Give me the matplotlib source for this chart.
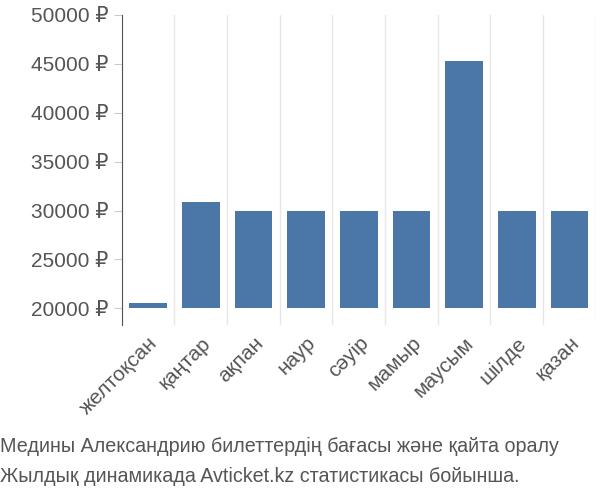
import matplotlib
matplotlib.use("Agg")
import matplotlib.pyplot as plt
from matplotlib.ticker import FuncFormatter

plt.rcParams['font.family'] = ['Liberation Sans', 'DejaVu Sans']

months = ['желтоқсан', 'қаңтар', 'ақпан', 'наур', 'сәуір', 'мамыр', 'маусым', 'шілде', 'қазан']
prices = [20600, 30900, 30000, 30000, 30000, 30000, 45300, 30000, 30000]
base = 20000

fig = plt.figure(figsize=(6, 5), dpi=100)
ax = fig.add_axes([0.203, 0.35, 0.79, 0.62])

x = range(len(months))
ax.bar(x, [p - base for p in prices], bottom=base, width=0.72, color='#4a76a8', zorder=2)

# light separators between categories
for b in [i + 0.5 for i in range(-1, len(months))]:
    ax.axvline(b, color='#e6e6e6', lw=1, zorder=1)

ax.set_xlim(-0.5, len(months) - 0.5)
ax.set_ylim(18300, 50000)
ax.set_yticks(range(20000, 50001, 5000))
ax.yaxis.set_major_formatter(FuncFormatter(lambda v, p: f'{int(v)} ₽'))
ax.set_xticks(list(x))
ax.set_xticklabels(months, rotation=45, ha='right', rotation_mode='anchor')
ax.tick_params(axis='both', labelsize=15, colors='#555555', length=6, color='#cccccc')
ax.tick_params(axis='x', length=0, pad=6)

for s in ['top', 'right', 'bottom']:
    ax.spines[s].set_visible(False)
ax.spines['left'].set_color('#555555')

fig.text(0.0, 0.095, 'Медины Александрию билеттердің бағасы және қайта оралу',
         fontsize=14.2, color='#555555')
fig.text(0.0, 0.035, 'Жылдық динамикада Avticket.kz статистикасы бойынша.',
         fontsize=14.2, color='#555555')

fig.savefig('out.png', dpi=100)
